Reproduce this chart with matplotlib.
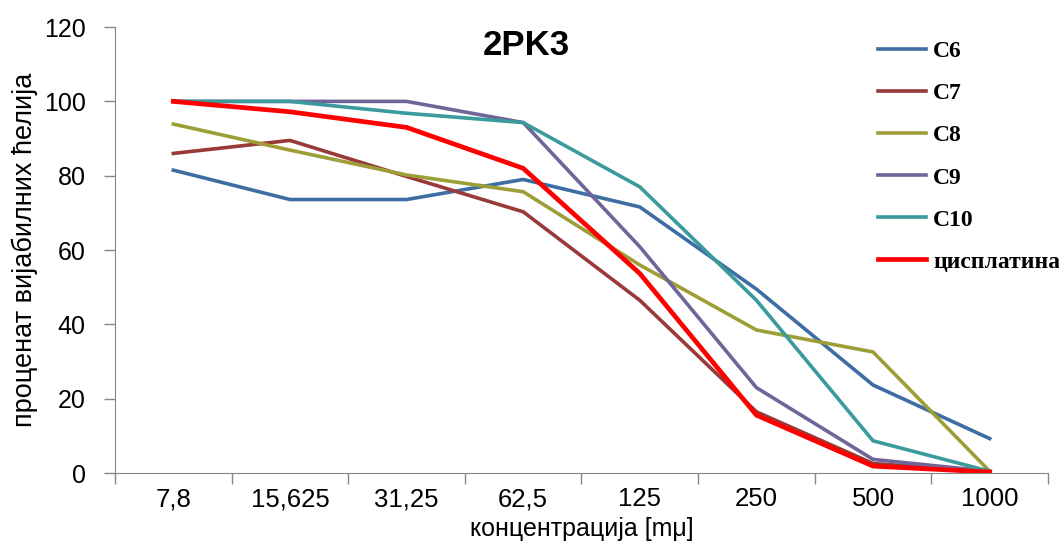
import numpy as np
import matplotlib.pyplot as plt

plt.rcParams['font.family'] = ['Liberation Sans', 'DejaVu Sans']

concentrations = ['7,8', '15,625', '31,25', '62,5', '125', '250', '500', '1000']
c6 = [81.5, 73.6, 73.6, 79.0, 71.6, 49.5, 23.7, 9.3]
c7 = [86.0, 89.5, 79.8, 70.3, 46.5, 16.5, 2.6, 0.4]
c8 = [93.9, 86.9, 80.2, 75.7, 56.0, 38.5, 32.6, 0.5]
c9 = [100.0, 100.0, 100.0, 94.3, 60.9, 23.0, 3.7, 0.5]
c10 = [100.0, 100.0, 96.8, 94.3, 77.0, 46.5, 8.7, 0.5]
cisplatin = [100.0, 97.2, 93.0, 82.0, 53.7, 15.6, 1.9, 0.3]

series = [
    ('C6', c6, '#3D6DA2', 2.6),
    ('C7', c7, '#983A38', 2.6),
    ('C8', c8, '#9E9E38', 2.6),
    ('C9', c9, '#6F6599', 2.6),
    ('C10', c10, '#3A9A9C', 2.6),
    ('цисплатина', cisplatin, '#FF0000', 3.4),
]

fig = plt.figure(figsize=(10.59, 5.56), dpi=100)
ax = fig.add_axes([0.1086, 0.149, 0.881, 0.8024])

x = np.arange(len(concentrations))
for name, vals, col, lw in series:
    ax.plot(x, vals, color=col, lw=lw, label=name, solid_joinstyle='miter')

ax.set_xlim(-0.5, len(concentrations) - 0.5)
ax.set_ylim(0, 120)
ax.set_yticks(range(0, 121, 20))

# category boundaries get the tick marks, labels sit in the middle
ax.set_xticks(np.arange(-0.5, len(concentrations), 1.0))
ax.set_xticklabels([])
ax.set_xticks(x, minor=True)
ax.set_xticklabels(concentrations, minor=True, fontsize=18.5)
ax.tick_params(axis='x', which='major', length=8, color='#868686', width=1)
ax.tick_params(axis='x', which='minor', length=0, pad=10)
ax.tick_params(axis='y', length=8, color='#868686', width=1, labelsize=18, pad=13)

for s in ['top', 'right']:
    ax.spines[s].set_visible(False)
for s in ['left', 'bottom']:
    ax.spines[s].set_color('#868686')

ax.set_xlabel('концентрација [mμ]', fontsize=18, labelpad=4)
ax.set_ylabel('проценат вијабилних ћелија', fontsize=19.5, labelpad=4)
fig.text(0.497, 0.918, '2PK3', fontsize=25, fontweight='bold', ha='center', va='center')

leg = ax.legend(loc='upper left', bbox_to_anchor=(866 / 1059, 1 - 29 / 556),
                bbox_transform=fig.transFigure, frameon=False, borderpad=0,
                prop={'family': 'Liberation Serif', 'weight': 'bold', 'size': 17},
                labelspacing=0.87, handlelength=2.05, handletextpad=0.3)

fig.savefig('out.png', dpi=100)
